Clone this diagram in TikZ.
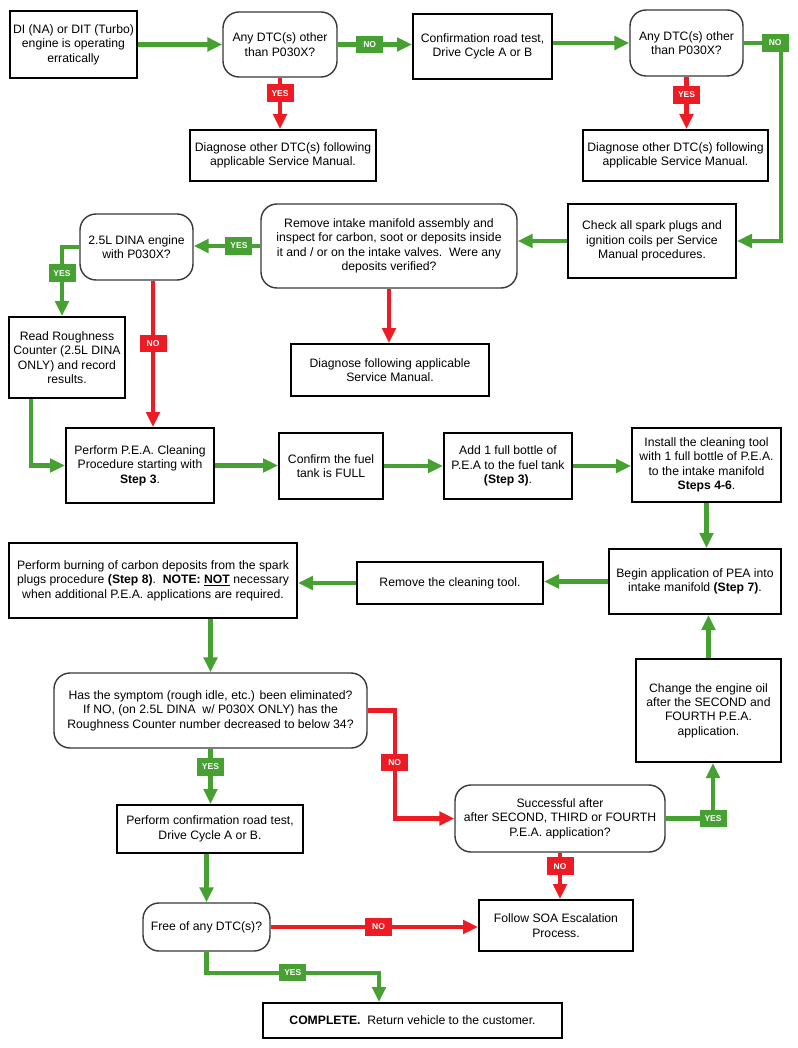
\documentclass[tikz,border=0pt]{standalone}
\usepackage{fontspec}
\setmainfont{Liberation Sans}
\usetikzlibrary{arrows.meta}
\definecolor{fgreen}{RGB}{70,160,50}
\definecolor{fred}{RGB}{237,28,36}
\begin{document}
\begin{tikzpicture}[x=1pt,y=-1pt,
  every node/.style={font=\fontsize{12.2}{14.4}\selectfont, align=center, inner sep=2pt},
  rbox/.style={draw=black, line width=2pt, rectangle, fill=white},
  qbox/.style={draw=black!78, line width=1.4pt, rectangle, rounded corners=16pt, fill=white},
  garr/.style={draw=fgreen, line width=4.2pt, -{Triangle[length=15pt,width=13.5pt]}},
  rarr/.style={draw=fred, line width=4.2pt, -{Triangle[length=15pt,width=13.5pt]}},
  glbl/.style={fill=fgreen, text=white, font=\fontsize{8.5}{8.5}\selectfont\bfseries, minimum width=27pt, minimum height=17.5pt, inner sep=1pt},
  rlbl/.style={fill=fred, text=white, font=\fontsize{8.5}{8.5}\selectfont\bfseries, minimum width=27pt, minimum height=17.5pt, inner sep=1pt}
]
\useasboundingbox (0,0) rectangle (797,1048);
\fill[white] (0,0) rectangle (797,1048);

% nodes
\node[rbox, minimum width=127pt, minimum height=67pt] (start) at (73.5,44.5) {DI (NA) or DIT (Turbo)\\engine is operating\\erratically};
\node[qbox, minimum width=114pt, minimum height=65pt] (q1) at (280,44.5) {Any DTC(s) other\\than P030X?};
\node[rbox, minimum width=139pt, minimum height=65pt] (conf) at (482.5,46.5) {Confirmation road test,\\Drive Cycle A or B};
\node[qbox, minimum width=113pt, minimum height=66pt] (q2) at (686.5,43) {Any DTC(s) other\\than P030X?};
\node[rbox, minimum width=186pt, minimum height=51pt] (diag1) at (283,155.5) {Diagnose other DTC(s) following\\applicable Service Manual.};
\node[rbox, minimum width=185pt, minimum height=51pt] (diag2) at (675.5,155.5) {Diagnose other DTC(s) following\\applicable Service Manual.};
\node[rbox, minimum width=168pt, minimum height=74pt] (check) at (652,241) {Check all spark plugs and\\ignition coils per Service\\Manual procedures.};
\node[qbox, minimum width=256pt, minimum height=84pt] (remove) at (389,246) {Remove intake manifold assembly and\\inspect for carbon, soot or deposits inside\\it and / or on the intake valves.\ \ Were any\\deposits verified?};
\node[qbox, minimum width=113pt, minimum height=66pt] (q3) at (136.5,247) {2.5L DINA engine\\with P030X?};
\node[rbox, minimum width=198pt, minimum height=52pt] (diag3) at (390,370) {Diagnose following applicable\\Service Manual.};
\node[rbox, minimum width=116pt, minimum height=81pt] (read) at (67,357.5) {Read Roughness\\Counter (2.5L DINA\\ONLY) and record\\results.};
\node[rbox, minimum width=148pt, minimum height=75pt] (pea) at (140,465.5) {Perform P.E.A. Cleaning\\Procedure starting with\\\textbf{Step 3}.};
\node[rbox, minimum width=104pt, minimum height=66pt] (fuel) at (331,466) {Confirm the fuel\\tank is FULL};
\node[rbox, minimum width=128pt, minimum height=66pt] (add) at (508,466) {Add 1 full bottle of\\P.E.A to the fuel tank\\\textbf{(Step 3)}.};
\node[rbox, minimum width=149pt, minimum height=74pt] (install) at (706.5,465) {Install the cleaning tool\\with 1 full bottle of P.E.A.\\to the intake manifold\\\textbf{Steps 4-6}.};
\node[rbox, minimum width=172pt, minimum height=65pt] (begin) at (695,581.5) {Begin application of PEA into\\intake manifold \textbf{(Step 7)}.};
\node[rbox, minimum width=186pt, minimum height=42pt] (remtool) at (450,583) {Remove the cleaning tool.};
\node[rbox, minimum width=288pt, minimum height=75pt] (burn) at (153,580.5) {Perform burning of carbon deposits from the spark\\plugs procedure \textbf{(Step 8)}.\ \ \textbf{NOTE: \underline{NOT}} necessary\\when additional P.E.A. applications are required.};
\node[qbox, minimum width=313pt, minimum height=75pt] (has) at (210.5,710.5) {Has the symptom (rough idle, etc.) been eliminated?\\If NO, (on 2.5L DINA\ \ w/ P030X ONLY) has the\\Roughness Counter number decreased to below 34?};
\node[rbox, minimum width=186pt, minimum height=48pt] (perfconf) at (210,829) {Perform confirmation road test,\\Drive Cycle A or B.};
\node[qbox, minimum width=210pt, minimum height=67pt] (succ) at (560,818.5) {Successful after\\after SECOND, THIRD or FOURTH\\P.E.A. application?};
\node[rbox, minimum width=145pt, minimum height=103pt] (change) at (708.5,710.5) {Change the engine oil\\after the SECOND and\\FOURTH P.E.A.\\application.};
\node[rbox, minimum width=154pt, minimum height=51pt] (soa) at (556,925.5) {Follow SOA Escalation\\Process.};
\node[qbox, minimum width=127pt, minimum height=48pt] (free) at (206.5,927) {Free of any DTC(s)?};
\node[rbox, minimum width=299pt, minimum height=35pt] (complete) at (412.5,1020.5) {\textbf{COMPLETE.}\ \ Return vehicle to the customer.};

% connectors
\draw[garr] (start.east) -- (start.east -| q1.west);
\draw[garr] (q1.east) -- (q1.east -| conf.west) node[pos=0.43, glbl] {NO};
\draw[garr] (q2.west -| conf.east) -- (q2.west);
\draw[rarr] (q1.south) -- (q1.south |- diag1.north) node[pos=0.3, rlbl] {YES};
\draw[rarr] (q2.south) -- (q2.south |- diag2.north) node[pos=0.35, rlbl] {YES};
\draw[garr] (q2.east) -- ++(37,0) node[pos=0.85, glbl] {NO} |- (check.east);
\draw[garr] (check.west) -- (check.west -| remove.east);
\draw[garr] (remove.west) -- (remove.west -| q3.east) node[pos=0.32, glbl] {YES};
\draw[rarr] (remove.south) -- (remove.south |- diag3.north);
\draw[garr] (q3.west) -| ([xshift=-5pt]read.north) node[pos=0.69, glbl] {YES};
\draw[rarr] ([xshift=16.5pt]q3.south) -- ([xshift=16.5pt]q3.south |- pea.north) node[pos=0.43, rlbl] {NO};
\draw[garr] ([xshift=-36pt]read.south) |- (pea.west);
\draw[garr] (pea.east) -- (pea.east -| fuel.west);
\draw[garr] (fuel.east) -- (fuel.east -| add.west);
\draw[garr] (add.east) -- (add.east -| install.west);
\draw[garr] (install.south) -- (install.south |- begin.north);
\draw[garr] (begin.west) -- (begin.west -| remtool.east);
\draw[garr] (remtool.west) -- (remtool.west -| burn.east);
\draw[garr] (has.north |- burn.south) -- (has.north);
\draw[garr] (has.south) -- (has.south |- perfconf.north) node[pos=0.33, glbl] {YES};
\draw[rarr] (has.east) -- ++(27,0) |- (succ.west) node[pos=0.24, rlbl] {NO};
\draw[garr] (succ.east) -| ([xshift=4.5pt]change.south) node[pos=0.5, glbl] {YES};
\draw[garr] (change.north) -- (change.north |- begin.south);
\draw[rarr] (succ.south) -- (succ.south |- soa.north) node[pos=0.29, rlbl] {NO};
\draw[garr] (free.north |- perfconf.south) -- (free.north);
\draw[rarr] (free.east) -- (free.east -| soa.west) node[pos=0.52, rlbl] {NO};
\draw[garr] (free.south) -- ++(0,21) -| ([xshift=-33.5pt]complete.north) node[pos=0.25, glbl] {YES};
\end{tikzpicture}
\end{document}
